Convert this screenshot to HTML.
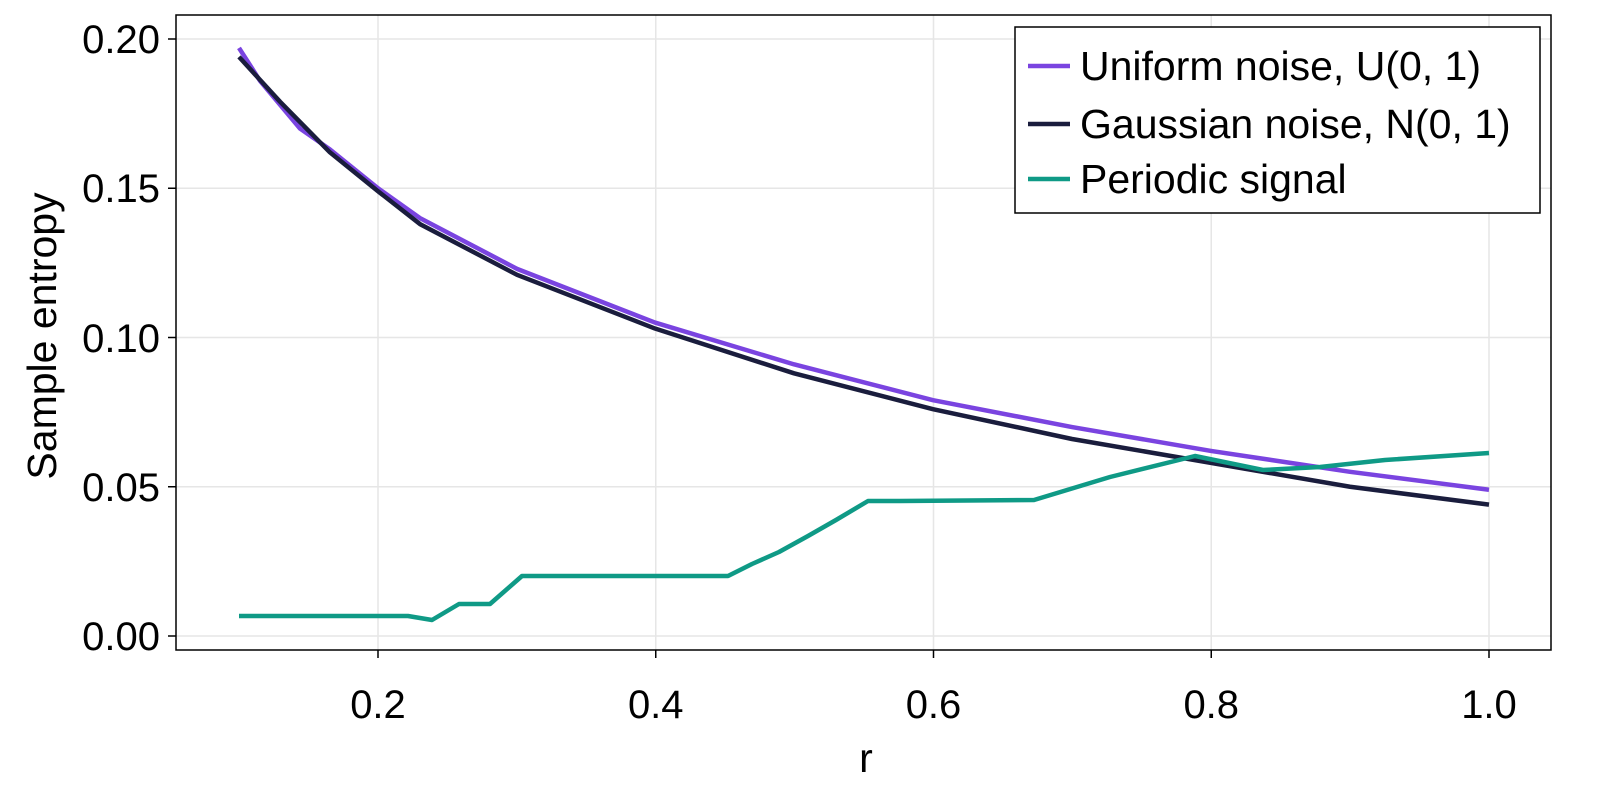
<!DOCTYPE html>
<html><head><meta charset="utf-8"><style>body{margin:0;background:#fff}svg{display:block}text{font-family:"Liberation Sans",sans-serif;fill:#000}</style></head>
<body>
<svg id="s" width="1600" height="800" xmlns="http://www.w3.org/2000/svg">
<rect x="0" y="0" width="1600" height="800" fill="#fff"/>
<g stroke="#e6e6e6" stroke-width="1.5">
<line x1="378" y1="15" x2="378" y2="650"/><line x1="655.75" y1="15" x2="655.75" y2="650"/><line x1="933.5" y1="15" x2="933.5" y2="650"/><line x1="1211.25" y1="15" x2="1211.25" y2="650"/><line x1="1489" y1="15" x2="1489" y2="650"/>
<line x1="176" y1="636" x2="1551" y2="636"/><line x1="176" y1="486.75" x2="1551" y2="486.75"/><line x1="176" y1="337.5" x2="1551" y2="337.5"/><line x1="176" y1="188.25" x2="1551" y2="188.25"/><line x1="176" y1="39" x2="1551" y2="39"/>
</g>
<g id="lines" fill="none" stroke-width="4.5" stroke-linejoin="round"></g>
<rect x="176" y="15" width="1375" height="635" fill="none" stroke="#000" stroke-width="1.5"/>
<g stroke="#000" stroke-width="1.5">
<line x1="378" y1="650" x2="378" y2="658"/><line x1="655.75" y1="650" x2="655.75" y2="658"/><line x1="933.5" y1="650" x2="933.5" y2="658"/><line x1="1211.25" y1="650" x2="1211.25" y2="658"/><line x1="1489" y1="650" x2="1489" y2="658"/>
<line x1="168" y1="636" x2="176" y2="636"/><line x1="168" y1="486.75" x2="176" y2="486.75"/><line x1="168" y1="337.5" x2="176" y2="337.5"/><line x1="168" y1="188.25" x2="176" y2="188.25"/><line x1="168" y1="39" x2="176" y2="39"/>
</g>
<g font-size="40" text-anchor="middle">
<text x="378" y="718">0.2</text><text x="655.75" y="718">0.4</text><text x="933.5" y="718">0.6</text><text x="1211.25" y="718">0.8</text><text x="1489" y="718">1.0</text>
</g>
<g font-size="40" text-anchor="end">
<text x="160" y="650">0.00</text><text x="160" y="501">0.05</text><text x="160" y="352">0.10</text><text x="160" y="202">0.15</text><text x="160" y="53">0.20</text>
</g>
<text x="866" y="772" font-size="41" text-anchor="middle">r</text>
<text transform="translate(56,336) rotate(-90)" font-size="41" text-anchor="middle">Sample entropy</text>
<rect x="1015" y="27" width="525" height="186" fill="#fff" stroke="#000" stroke-width="1.5"/>
<line x1="1028" y1="66" x2="1070" y2="66" stroke="#7a44e0" stroke-width="4.5"/>
<line x1="1028" y1="124" x2="1070" y2="124" stroke="#1a1d3d" stroke-width="4.5"/>
<line x1="1028" y1="179" x2="1070" y2="179" stroke="#0f9a86" stroke-width="4.5"/>
<g font-size="41"><text x="1080" y="80">Uniform noise, U(0, 1)</text><text x="1080" y="138">Gaussian noise, N(0, 1)</text><text x="1080" y="193">Periodic signal</text></g>
</svg>
<script>
function Y(v){return 636-v*2985;}
var U=[[239,.197],[260,.186],[280,.178],[300,.170],[330,.163],[378,.150],[420,.140],[517,.123],[655,.105],[794,.091],[933,.079],[1072,.070],[1211,.062],[1350,.055],[1489,.049]];
var G=[[239,.194],[280,.179],[330,.162],[378,.149],[420,.138],[517,.121],[655,.103],[794,.088],[933,.076],[1072,.066],[1211,.058],[1350,.050],[1489,.044]];
var P=[[239,616],[408,616],[432,620],[459,604],[490,604],[522,576],[728,576],[752,564],[779,552],[808,536],[836,520],[868,501],[900,501],[1034,500],[1110,477],[1195,456],[1263,470],[1320,467],[1385,460],[1489,453]];
var g=document.getElementById('lines'),ns='http://www.w3.org/2000/svg';
function add(pts,c){var p=document.createElementNS(ns,'polyline');p.setAttribute('points',pts.map(a=>a.join(',')).join(' '));p.setAttribute('stroke',c);g.appendChild(p);}
add(U.map(a=>[a[0],Y(a[1])]),'#7a44e0');
add(G.map(a=>[a[0],Y(a[1])]),'#1a1d3d');
add(P,'#0f9a86');
</script>
</body></html>
